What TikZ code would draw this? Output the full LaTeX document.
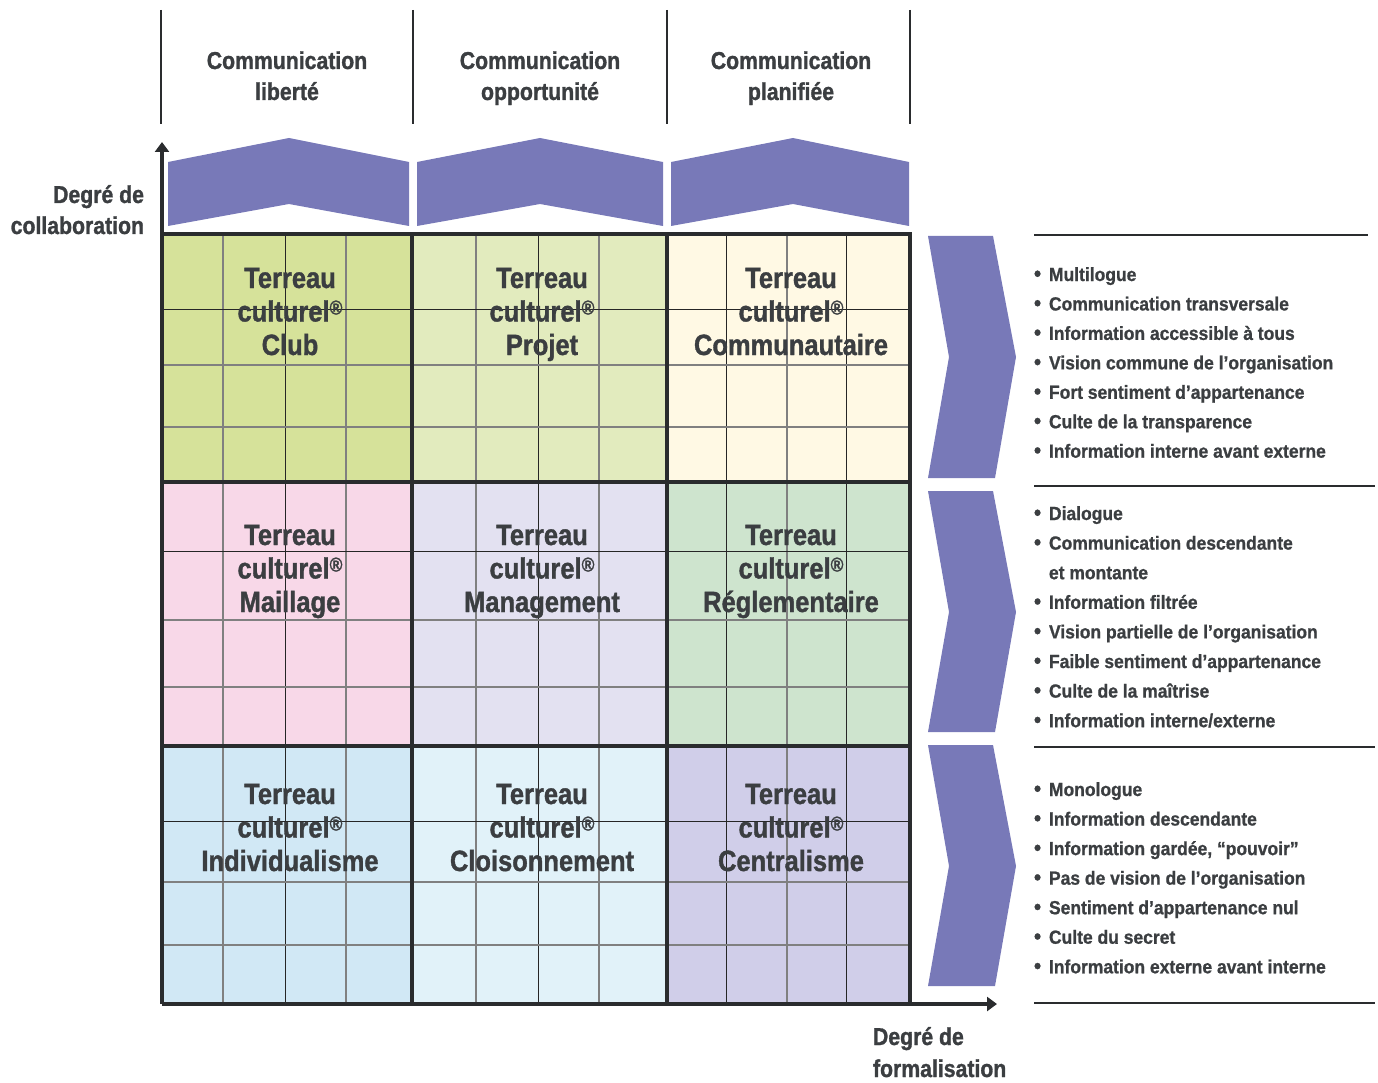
\documentclass[tikz,border=0pt]{standalone}
\usepackage{fontspec}
\setmainfont{Liberation Sans}
\newfontfamily\narrowfont{Liberation Sans}[FakeStretch=0.87,FakeBold=1.2]
\newfontfamily\listfont{Liberation Sans}[FakeStretch=0.92,FakeBold=0.9]
\usetikzlibrary{arrows.meta}

\definecolor{ink}{HTML}{3B3E41}
\definecolor{frameink}{HTML}{2A2C2E}
\definecolor{band}{HTML}{7879B8}
\definecolor{club}{HTML}{D6E29A}
\definecolor{projet}{HTML}{E2EBBE}
\definecolor{communautaire}{HTML}{FFF9E4}
\definecolor{maillage}{HTML}{F8D8E8}
\definecolor{management}{HTML}{E3E1F1}
\definecolor{reglementaire}{HTML}{CEE4CE}
\definecolor{individualisme}{HTML}{D1E8F5}
\definecolor{cloisonnement}{HTML}{E1F2F9}
\definecolor{centralisme}{HTML}{D0CEE9}

% registered mark raised to cap height
\newcommand\regmark{\raisebox{7pt}{\fontsize{20}{20}\selectfont ®}}
\newcommand\bul{\makebox[15pt][l]{\fontsize{22}{22}\selectfont\textbullet}}
\newcommand\nob{\hspace*{15pt}}

\begin{document}
\begin{tikzpicture}[x=1pt,y=-1pt,
  every node/.style={inner sep=0pt, outer sep=0pt, text=ink},
  celltitle/.style={anchor=base, font=\narrowfont\bfseries\fontsize{29.3}{33}\selectfont},
  headtitle/.style={anchor=base, font=\narrowfont\bfseries\fontsize{24.4}{30}\selectfont},
  listitem/.style={anchor=base west, font=\listfont\bfseries\fontsize{19}{24}\selectfont},
  majorline/.style={draw=black!85, line width=1pt},
  minorline/.style={draw=black!50, line width=1.4pt},
  frame/.style={draw=frameink, line width=3.5pt},
  axis/.style={draw=frameink, line width=3.5pt, -{Triangle[width=14pt,length=10pt]}},
  separator/.style={draw=frameink, line width=2pt},
  rule/.style={draw=frameink, line width=2.5pt},
]
\useasboundingbox (0,0) rectangle (1378,1083);

% ---- cell backgrounds
\foreach \xa/\xb/\ya/\yb/\col in {
  162/412/234/482/club, 412/667/234/482/projet, 667/910/234/482/communautaire,
  162/412/482/746/maillage, 412/667/482/746/management, 667/910/482/746/reglementaire,
  162/412/746/1004/individualisme, 412/667/746/1004/cloisonnement, 667/910/746/1004/centralisme}
  \fill[\col] (\xa,\ya) rectangle (\xb,\yb);

% ---- fine grid
\foreach \gx in {223,346,476,599,787}
  \draw[minorline] (\gx,234) -- (\gx,1004);
\foreach \gx in {285,538,726,846}
  \draw[majorline] (\gx,234) -- (\gx,1004);
\foreach \gy in {365,427,620,687,882,945}
  \draw[minorline] (160,\gy) -- (910,\gy);
\foreach \gy in {309,551,821}
  \draw[majorline] (160,\gy) -- (910,\gy);

% ---- cell dividers and frame
\draw[frame] (412,234) -- (412,1004);
\draw[frame] (667,234) -- (667,1004);
\draw[frame] (162,482) -- (910,482);
\draw[frame] (162,746) -- (910,746);
\draw[frame] (162,234) -- (910,234) -- (910,1004);

% ---- axes
\coordinate (origin) at (162,1004);
\coordinate (ytip) at (162,142);
\coordinate (xtip) at (997,1004);
\draw[axis] (origin) -- (ytip);
\draw[axis] (origin) -- (xtip);

% ---- column headers
\foreach \sx in {161,413,667,910}
  \draw[separator] (\sx,10) -- (\sx,124);
\node[headtitle] (h1a) at (287,69) {Communication};
\node[headtitle] (h1b) at (287,100) {liberté};
\node[headtitle] (h2a) at (540,69) {Communication};
\node[headtitle] (h2b) at (540,100) {opportunité};
\node[headtitle] (h3a) at (791,69) {Communication};
\node[headtitle] (h3b) at (791,100) {planifiée};

% ---- upward chevrons over the columns
\fill[band] (168,226) -- (168,162) -- (289,138) -- (409,162) -- (409,226) -- (289,204) -- cycle;
\fill[band] (417,226) -- (417,162) -- (540,138) -- (663,162) -- (663,226) -- (540,204) -- cycle;
\fill[band] (671,226) -- (671,162) -- (793,138) -- (909,162) -- (909,226) -- (793,204) -- cycle;

% ---- rightward chevrons beside the rows
\foreach \ta/\tm/\tb in {236/357/478, 491/612/732, 745/866/986}
  \fill[band] (928,\ta) -- (993,\ta) -- (1016,\tm) -- (995,\tb) -- (928,\tb) -- (949,\tm) -- cycle;

% ---- axis labels
\node[headtitle, anchor=base east] (ylab1) at (144,203) {Degré de};
\node[headtitle, anchor=base east] (ylab2) at (144,234) {collaboration};
\node[headtitle, anchor=base west] (xlab1) at (873,1045) {Degré de};
\node[headtitle, anchor=base west] (xlab2) at (873,1077) {formalisation};

% ---- cell titles
\foreach \cx/\by/\nm [count=\i] in {
  290/288/Club, 542/288/Projet, 791/288/Communautaire,
  290/545/Maillage, 542/545/Management, 791/545/Réglementaire,
  290/804/Individualisme, 542/804/Cloisonnement, 791/804/Centralisme} {
  \node[celltitle] (t\i-a) at (\cx,\by) {Terreau};
  \node[celltitle] (t\i-b) at (\cx,\by+33.5) {culturel\regmark};
  \node[celltitle] (t\i-c) at (\cx,\by+67) {\nm};
}

% ---- separating rules of the lists
\draw[rule] (1034,235) -- (1368,235);
\foreach \ry in {486,747,1003}
  \draw[rule] (1034,\ry) -- (1375,\ry);

% ---- lists
\foreach \t [count=\k] in {
  {\bul Multilogue},
  {\bul Communication transversale},
  {\bul Information accessible à tous},
  {\bul Vision commune de l’organisation},
  {\bul Fort sentiment d’appartenance},
  {\bul Culte de la transparence},
  {\bul Information interne avant externe}}
  \node[listitem] (la\k) at (1034,{281+(\k-1)*29.45}) {\t};

\foreach \t [count=\k] in {
  {\bul Dialogue},
  {\bul Communication descendante},
  {\nob et montante},
  {\bul Information filtrée},
  {\bul Vision partielle de l’organisation},
  {\bul Faible sentiment d’appartenance},
  {\bul Culte de la maîtrise},
  {\bul Information interne/externe}}
  \node[listitem] (lb\k) at (1034,{520+(\k-1)*29.6}) {\t};

\foreach \t [count=\k] in {
  {\bul Monologue},
  {\bul Information descendante},
  {\bul Information gardée, “pouvoir”},
  {\bul Pas de vision de l’organisation},
  {\bul Sentiment d’appartenance nul},
  {\bul Culte du secret},
  {\bul Information externe avant interne}}
  \node[listitem] (lc\k) at (1034,{796+(\k-1)*29.55}) {\t};

\end{tikzpicture}
\end{document}
